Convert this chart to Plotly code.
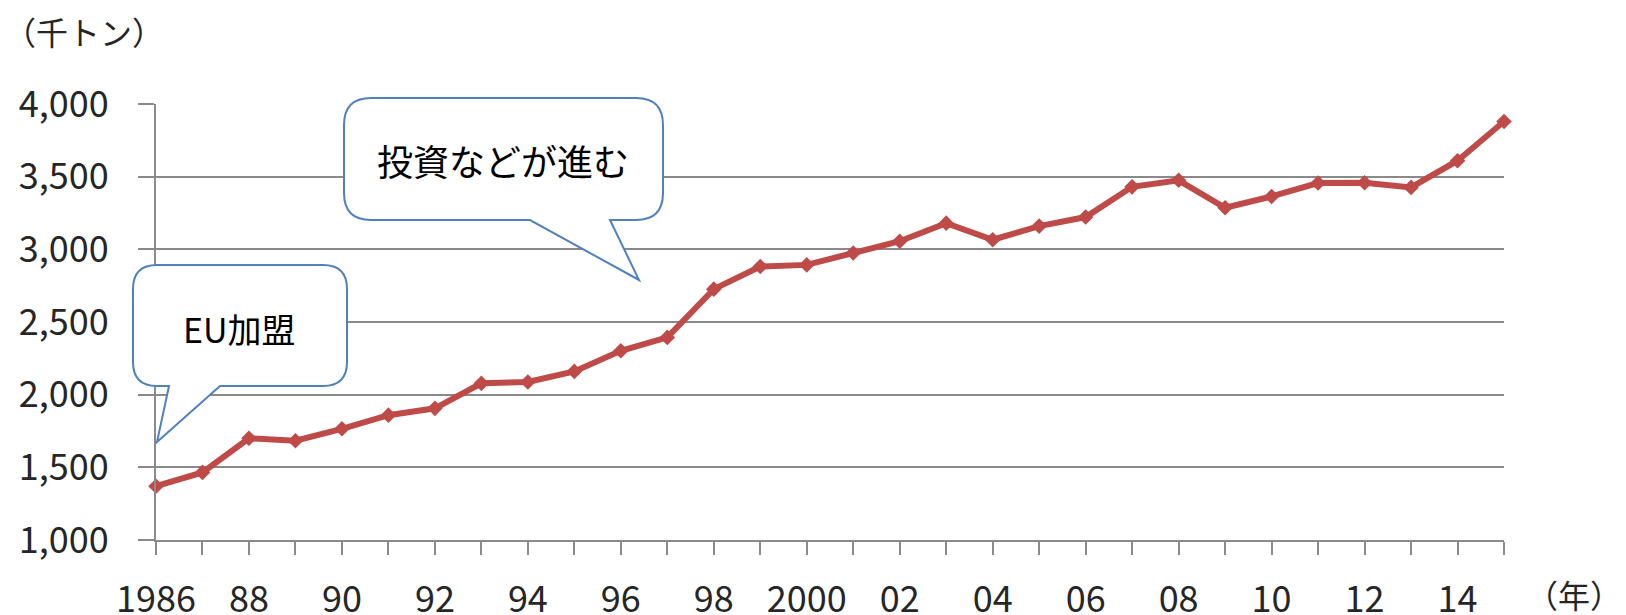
import plotly.graph_objects as go

# Annual volume (thousand tonnes), 1986-2015
years = list(range(1986, 2016))
volume = [1370, 1465, 1700, 1683, 1765, 1859, 1906, 2078, 2087, 2160,
          2302, 2394, 2726, 2882, 2893, 2975, 3056, 3180, 3066, 3160,
          3222, 3430, 3475, 3286, 3364, 3456, 3458, 3426, 3610, 3880]

# X tick labels: every other year, shortened after the first
x_tick_text = ["1986", "", "88", "", "90", "", "92", "", "94", "", "96", "",
               "98", "", "2000", "", "02", "", "04", "", "06", "", "08", "",
               "10", "", "12", "", "14", ""]

y_ticks = [1000, 1500, 2000, 2500, 3000, 3500, 4000]

W, H = 1626, 615
ML, MR, MT, MB = 156, 122, 104, 75
PW, PH = W - ML - MR, H - MT - MB

FONT = "Noto Sans CJK JP, Noto Sans, sans-serif"
TEXT = "#262626"
GRID = "#8a8a8a"
RED = "#BE4B48"
BLUE = "#4F81BD"


def px(x):
    return (x - ML) / PW


def py(y):
    return (H - MB - y) / PH


def bubble(left, top, right, bottom, r, base_l, base_r, tip):
    """Rounded speech bubble with a tail on the bottom edge (pixel geometry)."""
    pts = [
        ("M", (left + r, top)),
        ("L", (right - r, top)),
        ("Q", (right, top), (right, top + r)),
        ("L", (right, bottom - r)),
        ("Q", (right, bottom), (right - r, bottom)),
        ("L", (base_r, bottom)),
        ("L", tip),
        ("L", (base_l, bottom)),
        ("L", (left + r, bottom)),
        ("Q", (left, bottom), (left, bottom - r)),
        ("L", (left, top + r)),
        ("Q", (left, top), (left + r, top)),
    ]
    parts = []
    for p in pts:
        cmd = p[0]
        coords = " ".join(f"{px(a):.5f},{py(b):.5f}" for a, b in p[1:])
        parts.append(f"{cmd} {coords}")
    return " ".join(parts) + " Z"


fig = go.Figure()
fig.add_trace(go.Scatter(
    x=years, y=volume, mode="lines+markers",
    line=dict(color=RED, width=6),
    marker=dict(symbol="diamond", size=12, color=RED),
    cliponaxis=False, showlegend=False, hoverinfo="x+y",
))

shapes = [
    dict(type="path", xref="paper", yref="paper", layer="above",
         path=bubble(133, 265, 347, 386, 24, 169, 220, (157, 442)),
         line=dict(color=BLUE, width=2), fillcolor="white"),
    dict(type="path", xref="paper", yref="paper", layer="above",
         path=bubble(344, 98, 663, 220, 27, 530, 610, (639, 280)),
         line=dict(color=BLUE, width=2), fillcolor="white"),
]

annotations = [
    dict(text="EU加盟", x=px(239), y=py(328), xref="paper", yref="paper",
         showarrow=False, font=dict(family=FONT, size=34, color="black"),
         xanchor="center", yanchor="middle"),
    dict(text="投資などが進む", x=px(503), y=py(160), xref="paper", yref="paper",
         showarrow=False, font=dict(family=FONT, size=36, color="black"),
         xanchor="center", yanchor="middle"),
    dict(text="（千トン）", x=px(2), y=py(31), xref="paper", yref="paper",
         showarrow=False, font=dict(family=FONT, size=32, color=TEXT),
         xanchor="left", yanchor="middle"),
    dict(text="（年）", x=px(1624), y=py(594), xref="paper", yref="paper",
         showarrow=False, font=dict(family=FONT, size=32, color=TEXT),
         xanchor="right", yanchor="middle"),
]

fig.update_layout(
    width=W, height=H,
    margin=dict(l=ML, r=MR, t=MT, b=MB, pad=0, autoexpand=False),
    paper_bgcolor="white", plot_bgcolor="white",
    font=dict(family=FONT, size=36, color=TEXT),
    shapes=shapes, annotations=annotations,
    xaxis=dict(
        range=[1986, 2015], tickvals=years, ticktext=x_tick_text,
        ticks="outside", ticklen=13, tickwidth=2, tickcolor=GRID,
        showline=True, linecolor=GRID, linewidth=2, automargin=False,
        showgrid=False, zeroline=False, ticklabelstandoff=14,
        tickfont=dict(family=FONT, size=36, color=TEXT),
    ),
    yaxis=dict(
        range=[1000, 4000], tickvals=y_ticks, tickformat=",",
        ticks="outside", ticklen=16, tickwidth=2, tickcolor=GRID,
        showline=True, linecolor=GRID, linewidth=2, automargin=False,
        showgrid=True, gridcolor=GRID, gridwidth=2,
        zeroline=False, ticklabelstandoff=22,
        tickfont=dict(family=FONT, size=36, color=TEXT),
    ),
)

fig.write_html("out.html")
